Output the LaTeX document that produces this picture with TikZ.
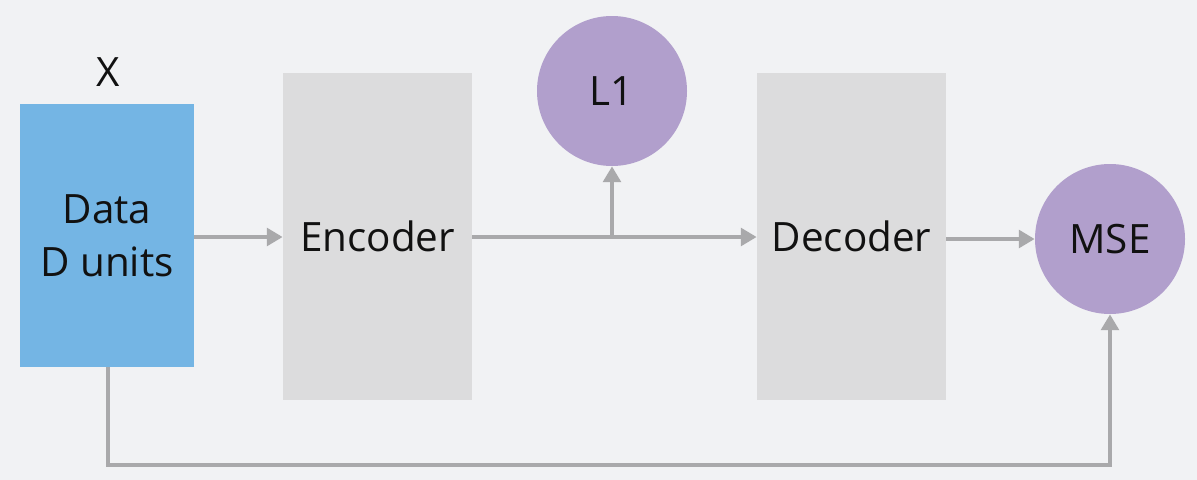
\documentclass[tikz,border=0pt]{standalone}
\usepackage{fontspec}
\setmainfont{Open Sans}
\usetikzlibrary{arrows.meta}
\definecolor{bgc}{HTML}{F1F2F4}
\definecolor{bluec}{HTML}{74B5E4}
\definecolor{grayc}{HTML}{DCDCDD}
\definecolor{purpc}{HTML}{B19FCC}
\definecolor{linec}{HTML}{A9A9AB}
\definecolor{txtc}{HTML}{111111}
\begin{document}
\begin{tikzpicture}[x=0.02cm,y=-0.02cm,
  lbl/.style={font=\fontsize{23}{30}\selectfont, text=txtc},
  blk/.style={fill=grayc, draw=none, inner sep=0pt},
  lossc/.style={circle, fill=purpc, draw=none, minimum size=150*0.02cm, inner sep=0pt, lbl},
  conn/.style={draw=linec, line width=2.3pt, -{Triangle[length=9pt,width=10pt]}}]
\fill[bgc] (0,0) rectangle (1197,480);
\useasboundingbox (0,0) rectangle (1197,480);
% boxes
\node[fill=bluec, inner sep=0pt, minimum width=174*0.02cm, minimum height=263*0.02cm, align=center, lbl] (data) at (107,235.5) {Data\\D units};
\node[lbl] (xlab) at (108,72) {X};
\node[blk, minimum width=189*0.02cm, minimum height=327*0.02cm, lbl] (enc) at (377.5,236.5) {Encoder};
\node[blk, minimum width=189*0.02cm, minimum height=327*0.02cm, lbl] (dec) at (851.5,236.5) {Decoder};
\node[lossc] (l1) at (612,91) {L1};
\node[lossc] (mse) at (1110,239) {MSE};
\coordinate (br) at (612,237);
\coordinate (c1) at (108,465);
\coordinate (c2) at (1110,465);
% connectors
\draw[conn] (data.east |- 0,237) -- (enc.west |- 0,237);
\draw[conn] (enc.east |- 0,237) -- (dec.west |- 0,237);
\draw[conn] (br) -- (l1.south);
\draw[conn] (dec.east |- 0,239) -- (mse.west);
\draw[conn] (data.south -| c1) -- (c1) -- (c2) -- (mse.south);
\end{tikzpicture}
\end{document}
